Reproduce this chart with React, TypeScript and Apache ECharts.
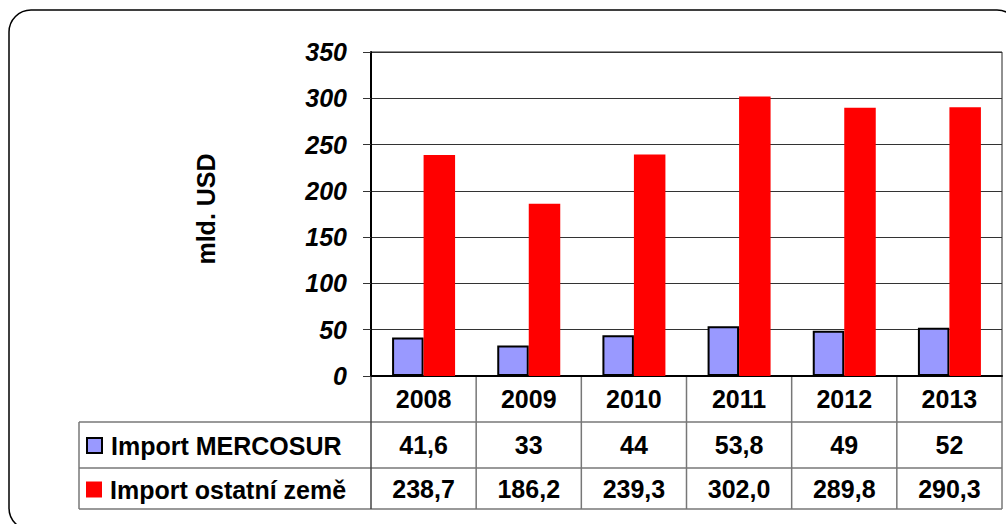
import React, { useEffect, useRef } from "react";
import * as echarts from "echarts";

const years = ["2008", "2009", "2010", "2011", "2012", "2013"];
const mercosurName = "Import MERCOSUR";
const otherName = "Import ostatní země";
const mercosur = [41.6, 33, 44, 53.8, 49, 52];
const other = [238.7, 186.2, 239.3, 302.0, 289.8, 290.3];
const yTicks = { min: 0, max: 350, interval: 50 };
const yName = "mld. USD";

const FONT = "Liberation Sans, Arial, sans-serif";
const FS = 25;
const fmtBlue = (v: number) => String(v).replace(".", ",");
const fmtRed = (v: number) => v.toFixed(1).replace(".", ",");

export default function App() {
  const ref = useRef<HTMLDivElement>(null);
  useEffect(() => {
    if (!ref.current) return;
    const chart = echarts.init(ref.current, null, { renderer: "svg" });
    const gridLeft = 371;
    const gridRight = 1002;
    const gridTop = 52;
    const gridBottom = 376;
    const rowLines = [422, 468, 509];
    const tableLeft = 79;
    const labelBase = {
      fontFamily: FONT,
      fontWeight: "bold" as const,
      fontSize: FS,
      color: "#000",
      verticalAlign: "middle" as const,
    };
    const colW = (gridRight - gridLeft) / years.length;
    const colLines = Array.from({ length: years.length + 1 }, (_, i) => gridLeft + i * colW);
    const graphics: any[] = [
      {
        type: "rect",
        shape: { x: 9, y: 10, width: 1010, height: 520, r: 22 },
        style: { fill: "none", stroke: "#000", lineWidth: 1.5 },
        silent: true,
      },
      {
        type: "line",
        shape: { x1: tableLeft, y1: rowLines[0], x2: tableLeft, y2: rowLines[2] },
        style: { stroke: "#777", lineWidth: 1.5 },
      },
      ...rowLines.map((y) => ({
        type: "line",
        shape: { x1: tableLeft, y1: y, x2: gridRight, y2: y },
        style: { stroke: "#777", lineWidth: 1.5 },
      })),
      ...colLines.map((x, i) => ({
        type: "line",
        shape: { x1: x, y1: gridBottom, x2: x, y2: rowLines[2] },
        style: { stroke: i === 0 ? "#444" : "#777", lineWidth: 1.5 },
      })),
      {
        type: "text",
        x: 206,
        y: 209,
        rotation: Math.PI / 2,
        style: {
          text: yName,
          fontFamily: FONT,
          fontWeight: "bold",
          fontSize: FS,
          fill: "#000",
          align: "center",
          verticalAlign: "middle",
        },
      },
    ];
    chart.setOption({
      animation: false,
      grid: {
        left: gridLeft,
        right: 1006 - gridRight,
        top: gridTop,
        bottom: 524 - gridBottom,
        show: true,
        borderColor: "#222",
        borderWidth: 1,
      },
      legend: [
        {
          data: [mercosurName],
          left: 86,
          top: 433,
          padding: 0,
          itemWidth: 15,
          itemHeight: 15,
          icon: "rect",
          textStyle: { ...labelBase, padding: [0, 0, 0, 4] },
        },
        {
          data: [otherName],
          left: 86,
          top: 477,
          padding: 0,
          itemWidth: 16,
          itemHeight: 16,
          icon: "rect",
          textStyle: { ...labelBase, padding: [0, 0, 0, 3] },
        },
      ],
      xAxis: [
        {
          type: "category",
          data: years,
          axisLine: { lineStyle: { color: "#000", width: 2 } },
          axisTick: { show: false },
          axisLabel: { ...labelBase, margin: 23 },
        },
        {
          type: "category",
          data: years,
          position: "bottom",
          offset: 46,
          axisLine: { show: false },
          axisTick: { show: false },
          axisLabel: {
            ...labelBase,
            margin: 23,
            formatter: (_v: string, i: number) => fmtBlue(mercosur[i]),
          },
        },
        {
          type: "category",
          data: years,
          position: "bottom",
          offset: 92,
          axisLine: { show: false },
          axisTick: { show: false },
          axisLabel: {
            ...labelBase,
            margin: 21,
            formatter: (_v: string, i: number) => fmtRed(other[i]),
          },
        },
      ],
      yAxis: {
        type: "value",
        min: yTicks.min,
        max: yTicks.max,
        interval: yTicks.interval,
        axisLine: { show: true, lineStyle: { color: "#000", width: 2 } },
        axisTick: { show: true, length: 8, lineStyle: { color: "#333" } },
        splitLine: { lineStyle: { color: "#333", width: 1 } },
        axisLabel: {
          fontFamily: FONT,
          fontWeight: "bold",
          fontStyle: "italic",
          fontSize: FS,
          color: "#000",
          margin: 24,
        },
      },
      series: [
        {
          name: mercosurName,
          type: "bar",
          data: mercosur,
          barWidth: 31.5,
          barGap: "0%",
          itemStyle: { color: "#9999FF", borderColor: "#000", borderWidth: 2 },
        },
        {
          name: otherName,
          type: "bar",
          data: other,
          barWidth: 31.5,
          barGap: "0%",
          itemStyle: { color: "#FF0000" },
        },
      ],
      graphic: graphics,
    });
    return () => chart.dispose();
  }, []);
  return (
    <div
      ref={ref}
      style={{ position: "absolute", left: 0, top: 0, width: 1006, height: 524, background: "#fff" }}
    />
  );
}
